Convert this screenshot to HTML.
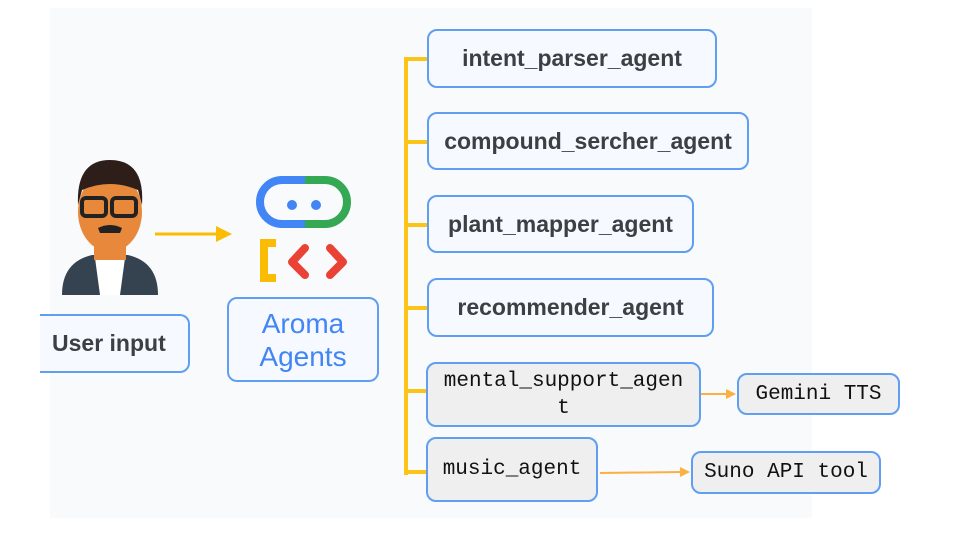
<!DOCTYPE html>
<html><head><meta charset="utf-8"><style>
body{margin:0;width:960px;height:540px;background:#fff;position:relative;overflow:hidden;font-family:"Liberation Sans",sans-serif}
.bg{position:absolute;left:50px;top:8px;width:762px;height:510px;background:#f9fafc}
.b{position:absolute;box-sizing:border-box;border:2px solid #5f9ef0;border-radius:10px;background:#f6f9ff;color:#3c4043;font-size:23px;font-weight:bold;display:flex;align-items:center;justify-content:center;text-align:center}
.m{background:#efefef;font-family:"Liberation Mono","Noto Serif CJK SC",monospace;font-weight:normal;color:#111;font-size:21px;line-height:27px}
.y{position:absolute;background:#fcc419}
</style></head><body>
<div class="bg"></div>
<div class="y" style="left:404px;top:57px;width:4px;height:418px"></div>
<div class="y" style="left:404px;top:57px;width:24px;height:4px"></div>
<div class="y" style="left:404px;top:140px;width:24px;height:4px"></div>
<div class="y" style="left:404px;top:223px;width:24px;height:4px"></div>
<div class="y" style="left:404px;top:306px;width:24px;height:4px"></div>
<div class="y" style="left:404px;top:389px;width:24px;height:4px"></div>
<div class="y" style="left:404px;top:470px;width:24px;height:4px"></div>

<div class="b" style="left:427px;top:29px;width:290px;height:59px">intent_parser_agent</div>
<div class="b" style="left:427px;top:112px;width:322px;height:58px">compound_sercher_agent</div>
<div class="b" style="left:427px;top:195px;width:267px;height:58px">plant_mapper_agent</div>
<div class="b" style="left:427px;top:278px;width:287px;height:59px">recommender_agent</div>
<div class="b m" style="left:426px;top:362px;width:275px;height:65px">mental_support_agen<br>t</div>
<div class="b m" style="left:426px;top:437px;width:172px;height:65px">music_agent</div>
<div class="b m" style="left:737px;top:373px;width:163px;height:42px">Gemini TTS</div>
<div class="b m" style="left:691px;top:451px;width:190px;height:43px">Suno API tool</div>

<svg style="position:absolute;left:0;top:0" width="960" height="540">
<g stroke="#fbb040" stroke-width="2" fill="#fbb040">
<line x1="701" y1="394" x2="728" y2="394"/><polygon points="736,394 726,389 726,399" stroke="none"/>
<line x1="600" y1="473" x2="682" y2="472"/><polygon points="690,472 680,467 680,477" stroke="none"/>
</g>
<line x1="155" y1="234" x2="220" y2="234" stroke="#fbbc04" stroke-width="3"/>
<polygon points="232,234 216,226 216,242" fill="#fbbc04"/>
<path d="M62,295 Q62,262 92,255 L128,255 Q158,262 158,295 Z" fill="#34434f"/>
<path d="M95,258 L125,258 L120,295 L100,295 Z" fill="#fff"/>
<rect x="94" y="240" width="32" height="20" fill="#e8883a"/>
<ellipse cx="110" cy="212" rx="32" ry="40" fill="#e8883a"/>
<path d="M78,205 Q76,160 110,160 Q145,160 142,205 L138,190 Q110,178 82,190 Z" fill="#2d1e1a"/>
<rect x="82" y="198" width="24" height="18" rx="4" fill="none" stroke="#222" stroke-width="4"/>
<rect x="112" y="198" width="24" height="18" rx="4" fill="none" stroke="#222" stroke-width="4"/>
<path d="M98,228 Q110,222 122,228 L120,233 L100,233 Z" fill="#222"/>
<path d="M305,180 L282,180 A22,22 0 0 0 282,224 L305,224" fill="none" stroke="#4285f4" stroke-width="8"/>
<path d="M305,180 L325,180 A22,22 0 0 1 325,224 L305,224" fill="none" stroke="#34a853" stroke-width="8"/>
<circle cx="292" cy="205" r="5" fill="#4285f4"/><circle cx="316" cy="205" r="5" fill="#4285f4"/>
<path d="M276,243 L264,243 L264,278 L276,278" fill="none" stroke="#fbbc04" stroke-width="8"/>
<path d="M305,248 L292,262 L305,275 M330,248 L343,262 L330,275" fill="none" stroke="#ea4335" stroke-width="8" stroke-linecap="round" stroke-linejoin="round"/>
</svg>
<div class="b" style="left:40px;top:314px;width:150px;height:59px;border-left:none;border-radius:0 10px 10px 0;justify-content:flex-start;padding-left:12px;color:#3c4043">User input</div>
<div class="b" style="left:227px;top:297px;width:152px;height:85px;color:#4285f4;font-weight:normal;font-size:28px;line-height:33px">Aroma<br>Agents</div>
</body></html>
